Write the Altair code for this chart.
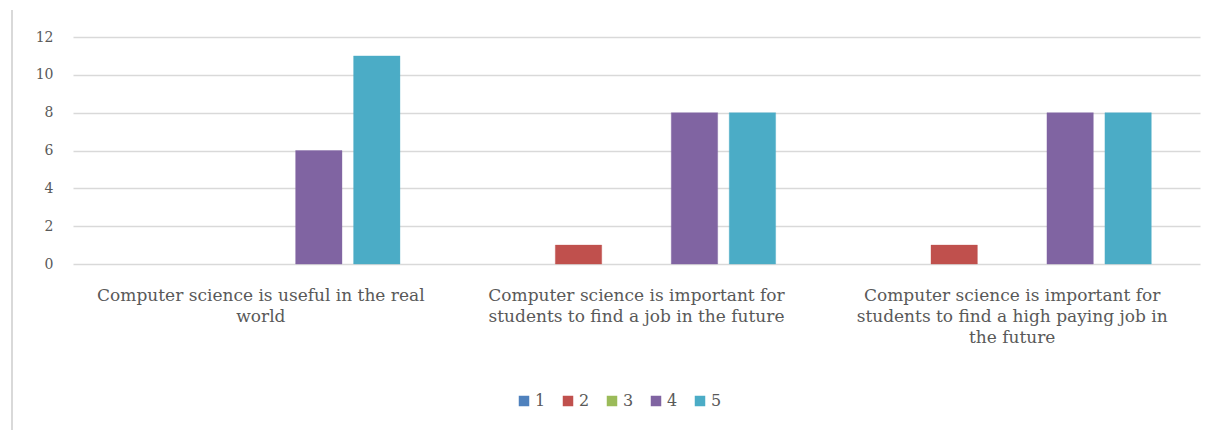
import altair as alt
import pandas as pd

categories = [
    "Computer science is useful in the real\nworld",
    "Computer science is important for\nstudents to find a job in the future",
    "Computer science is important for\nstudents to find a high paying job in\nthe future",
]
ratings = ["1", "2", "3", "4", "5"]
values = {
    "1": [0, 0, 0],
    "2": [0, 1, 1],
    "3": [0, 0, 0],
    "4": [6, 8, 8],
    "5": [11, 8, 8],
}
colors = ["#4F81BD", "#C0504D", "#9BBB59", "#8064A2", "#4BACC6"]

rows = []
for r in ratings:
    for c, v in zip(categories, values[r]):
        rows.append({"statement": c, "rating": r, "count": v})
df = pd.DataFrame(rows)

FONT = "DejaVu Serif"
GREY = "#595959"

bars = alt.Chart(df).mark_bar(strokeWidth=1, strokeOpacity=0.35).encode(
    x=alt.X("statement:N", sort=categories, title=None,
            scale=alt.Scale(paddingInner=0, paddingOuter=0),
            axis=alt.Axis(labelAngle=0, labelExpr="split(datum.label, '\\n')",
                          labelFont=FONT, labelFontSize=17, labelColor=GREY,
                          labelLineHeight=21, labelPadding=23, ticks=False,
                          domain=False, labelLimit=400)),
    xOffset=alt.XOffset("rating:N", sort=ratings,
                        scale=alt.Scale(paddingInner=0.2, paddingOuter=0.84)),
    y=alt.Y("count:Q", title=None,
            scale=alt.Scale(domain=[0, 12], nice=False),
            axis=alt.Axis(values=[0, 2, 4, 6, 8, 10, 12], labelFont=FONT,
                          labelFontSize=14, labelColor=GREY, ticks=False,
                          domain=False, labelPadding=20, gridColor="#D9D9D9",
                          gridWidth=1.5)),
    color=alt.Color("rating:N", sort=ratings,
                    scale=alt.Scale(domain=ratings, range=colors),
                    legend=alt.Legend(title=None, orient="none", direction="horizontal",
                                      legendX=443, legendY=356, symbolType="square",
                                      symbolSize=110, symbolStrokeWidth=0,
                                      labelFont=FONT, labelFontSize=16, labelColor=GREY,
                                      columnPadding=14, labelOffset=3)),
    stroke=alt.Color("rating:N", sort=ratings,
                     scale=alt.Scale(domain=ratings, range=colors), legend=None),
    opacity=alt.condition("datum.count > 0", alt.value(1), alt.value(0)),
)

border = alt.Chart(pd.DataFrame({"v": [0]})).mark_rule(color="#D9D9D9", strokeWidth=2).encode(
    x=alt.value(-61), y=alt.value(-27), y2=alt.value(393)
)

chart = alt.layer(bars, border).properties(
    width=1127, height=227,
    background="white",
    autosize=alt.AutoSizeParams(type="none"),
    padding={"left": 73, "top": 37, "right": 21, "bottom": 166},
).configure_view(stroke=None)

chart.save("out.html", embed_options={"renderer": "svg", "actions": False})
